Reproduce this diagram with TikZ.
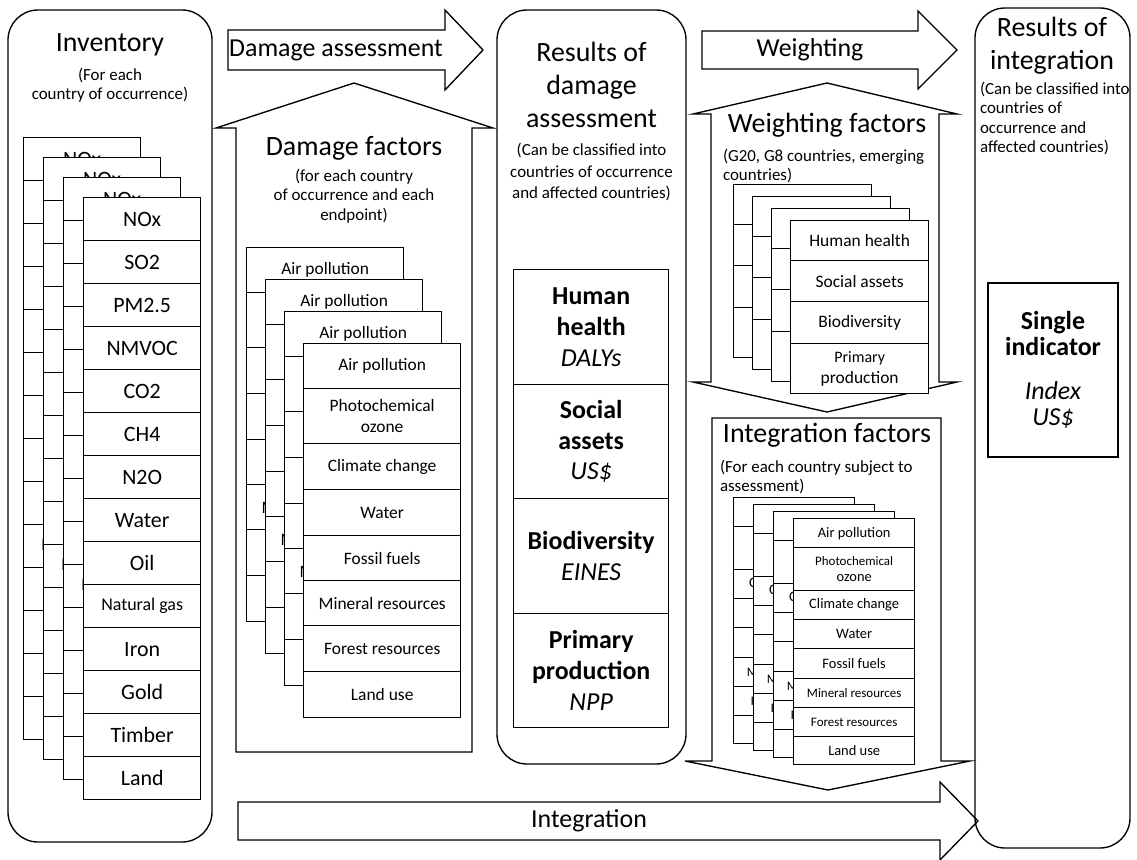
\documentclass[tikz,border=0pt]{standalone}
\usepackage{fontspec}
\setmainfont{Carlito}
\tikzset{
  cell/.style={draw, fill=white, inner sep=0pt, anchor=north west, align=center},
  bigtitle/.style={font=\fontsize{28}{33}\selectfont, align=center},
  subnote/.style={font=\fontsize{17}{19.5}\selectfont, align=center},
  flowlabel/.style={font=\fontsize{26}{30}\selectfont},
  bigshape/.style={draw, fill=white},
}

\begin{document}
\begin{tikzpicture}[x=1bp, y=-1bp, line width=1.35bp]
\useasboundingbox (0,0) rectangle (1137,860);

% ========== Inventory ==========
\draw[rounded corners=30bp] (8,10) rectangle (212,842);
\node[bigtitle] (invtitle) at (110,45) {Inventory};
\node[subnote] (invnote) at (110,85) {(For each\\country of occurrence)};
\foreach \k in {0,...,3} {
  \foreach \i/\txt in {0/NOx, 1/SO2, 2/PM2.5, 3/NMVOC, 4/CO2, 5/CH4, 6/N2O, 7/Water, 8/Oil,
      9/{\fontsize{18}{20}\selectfont Natural gas}, 10/Iron, 11/Gold, 12/Timber, 13/Land}
    \node[cell, minimum width=117bp, minimum height=43bp, font=\fontsize{22}{24}\selectfont]
      (inv\k-\i) at (23+20*\k, 137+20*\k+43*\i) {\txt};
}

% ========== Damage assessment ==========
\draw[bigshape] (228,30) -- (445,30) -- (445,10) -- (483,50) -- (445,90) -- (445,70) -- (228,70) -- cycle;
\node[flowlabel] (dmglabel) at (336,50) {Damage assessment};

\draw[bigshape] (236,752) -- (236,128) -- (216,128) -- (354,83) -- (493,128) -- (472,128) -- (472,752) -- cycle;
\node[bigtitle] (dftitle) at (354,148) {Damage factors};
\node[subnote] (dfnote) at (354,196) {(for each country\\of occurrence and each\\endpoint)};
\foreach \k in {0,...,3} {
  \foreach \i/\ya/\h/\txt in {0/0/45/Air pollution, 1/45/55/{Photochemical\\ozone}, 2/100/46/Climate change,
      3/146/46/Water, 4/192/45/Fossil fuels, 5/237/45/Mineral resources, 6/282/46/Forest resources, 7/328/46/Land use}
    \node[cell, minimum width=157bp, minimum height=\h bp, font=\fontsize{17.5}{21}\selectfont]
      (df\k-\i) at (246+19*\k, 247+32*\k+\ya) {\txt};
}

% ========== Results of damage assessment ==========
\draw[rounded corners=30bp] (497,10) rectangle (686,764);
\node[bigtitle] (rdtitle) at (591.5,85) {Results of\\damage\\assessment};
\node[subnote, font=\fontsize{17}{21.5}\selectfont] (rdnote) at (591.5,172) {(Can be classified into\\countries of occurrence\\and affected countries)};
\foreach \i/\txt in {0/{\textbf{Human}\\\textbf{health}\\\textit{DALYs}}, 1/{\textbf{Social}\\\textbf{assets}\\\textit{US\$}},
    2/{\textbf{Biodiversity}\\\textit{EINES}}, 3/{\textbf{Primary}\\\textbf{production}\\\textit{NPP}}}
  \node[cell, minimum width=155bp, minimum height=114.5bp, font=\fontsize{26}{31}\selectfont]
    (rd\i) at (513, 269+114.5*\i) {\txt};

% ========== Weighting ==========
\draw[bigshape] (702,31) -- (918,31) -- (918,11) -- (957,50) -- (918,89) -- (918,69) -- (702,69) -- cycle;
\node[flowlabel] (wlabel) at (810,50) {Weighting};

\draw[bigshape] (711,114) -- (693,114) -- (827,83) -- (957,114) -- (939,114) -- (939,382) -- (957,382)
  -- (827,412) -- (693,382) -- (711,382) -- cycle;
\node[bigtitle] (wftitle) at (827,125) {Weighting factors};
\node[subnote, align=left, anchor=north west] (wfnote) at (719,145) {(G20, G8 countries, emerging\\countries)};
\foreach \k in {0,...,3} {
  \foreach \i/\ya/\h/\txt in {0/0/40/Human health, 1/40/41/Social assets, 2/81/42/Biodiversity,
      3/123/50/{\fontsize{16}{20}\selectfont Primary\\production}}
    \node[cell, minimum width=138bp, minimum height=\h bp, font=\fontsize{17.5}{21}\selectfont]
      (wf\k-\i) at (733+19*\k, 184+12*\k+\ya) {\txt};
}

% ========== Integration factors ==========
\draw[bigshape] (712,418) -- (941,418) -- (941,761) -- (970,761) -- (828,790) -- (685,761) -- (712,761) -- cycle;
\node[bigtitle] (iftitle) at (827,435) {Integration factors};
\node[subnote, align=left, anchor=north west] (ifnote) at (716,456) {(For each country subject to\\assessment)};
\foreach \k in {0,...,3} {
  \foreach \i/\ya/\h/\txt in {0/0/29/Air pollution, 1/29/43/{\fontsize{13}{15}\selectfont Photochemical\\ozone},
      2/72/29/Climate change, 3/101/29/Water, 4/130/30/Fossil fuels,
      5/160/29/{\fontsize{13}{15}\selectfont Mineral resources}, 6/189/29/{\fontsize{13}{15}\selectfont Forest resources},
      7/218/28/Land use}
    \node[cell, minimum width=121bp, minimum height=\h bp, font=\fontsize{14.5}{16}\selectfont]
      (if\k-\i) at (733+20*\k, 497+7*\k+\ya) {\txt};
}

% ========== Integration ==========
\draw[bigshape] (238,802) -- (940,802) -- (940,782) -- (978,821) -- (940,860) -- (940,840) -- (238,840) -- cycle;
\node[flowlabel] (intlabel) at (589,821) {Integration};

% ========== Results of integration ==========
\draw[rounded corners=30bp] (975,8) rectangle (1130,848);
\node[bigtitle, font=\fontsize{28}{33}\selectfont] (rititle) at (1052,46) {Results of\\integration};
\node[subnote, align=left, anchor=north west] (rinote) at (976,78) {(Can be classified into\\countries of\\occurrence and\\affected countries)};
\node[draw, minimum width=130bp, minimum height=174bp, align=center, font=\fontsize{26}{26}\selectfont]
  (single) at (1053,370) {\textbf{Single}\\\textbf{indicator}\\[18bp]\textit{Index}\\\textit{US\$}};
\end{tikzpicture}
\end{document}
